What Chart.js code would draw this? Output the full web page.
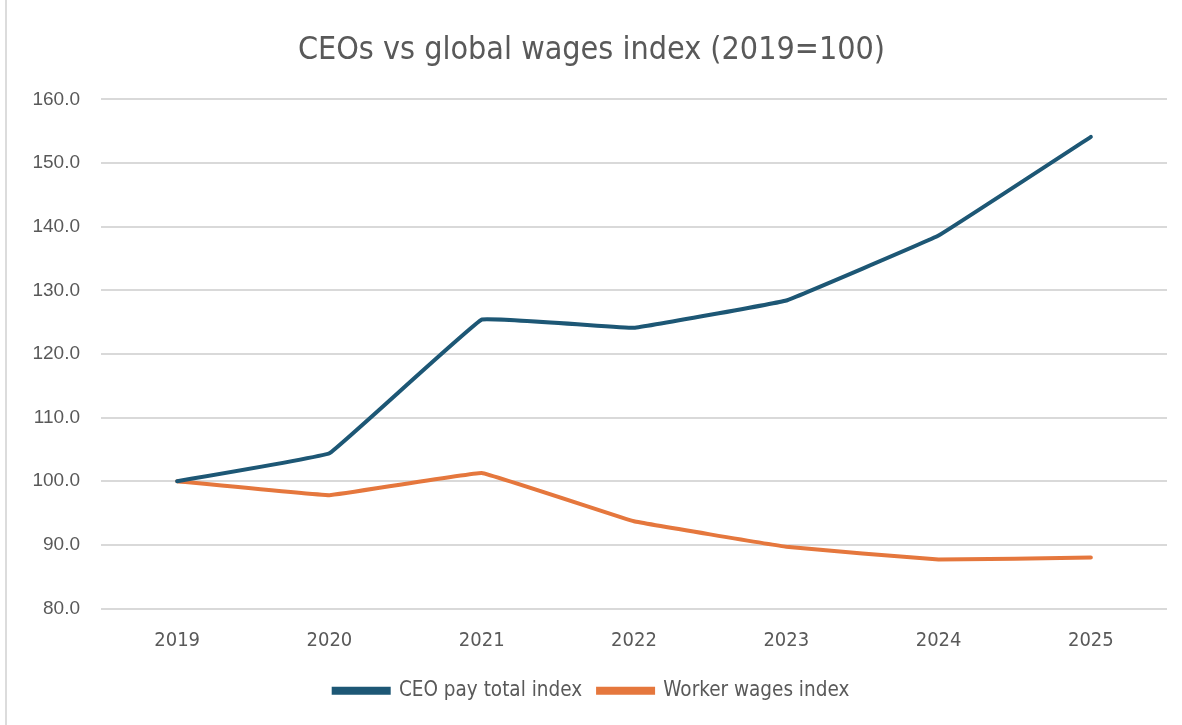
<!DOCTYPE html>
<html>
<head>
<meta charset="utf-8">
<script src="https://cdn.jsdelivr.net/npm/chart.js@4"></script>
<style>
  html, body { margin: 0; padding: 0; background: #fff; }
  #wrap { position: relative; width: 1182px; height: 725px; }
  #wrap::before { content: ""; position: absolute; left: 5px; top: 0; bottom: 0; width: 2px; background: #dcdcdc; }
</style>
</head>
<body>
<div id="wrap"><canvas id="chart" width="1182" height="725"></canvas></div>
<script>
const years = ["2019", "2020", "2021", "2022", "2023", "2024", "2025"];
const ceoPay = [100.0, 104.4, 125.4, 124.1, 128.4, 138.6, 154.1];
const workerWages = [100.0, 97.8, 101.3, 93.7, 89.7, 87.7, 88.0];
const yTicks = [80, 90, 100, 110, 120, 130, 140, 150, 160];

const narrow = "'Liberation Sans Narrow', 'DejaVu Sans Condensed', sans-serif";
const grey = "#595959";

new Chart(document.getElementById("chart"), {
  type: "line",
  data: {
    labels: years,
    datasets: [
      {
        label: "CEO pay total index",
        data: ceoPay,
        borderColor: "#1d5775",
        backgroundColor: "#1d5775",
        borderWidth: 4,
        pointRadius: 0,
        tension: 0.05,
        borderCapStyle: "round",
      },
      {
        label: "Worker wages index",
        data: workerWages,
        borderColor: "#e5773d",
        backgroundColor: "#e5773d",
        borderWidth: 4,
        pointRadius: 0,
        tension: 0.05,
        borderCapStyle: "round",
      },
    ],
  },
  options: {
    responsive: false,
    animation: false,
    layout: { padding: { left: 16, right: 15, top: 10, bottom: 14 } },
    plugins: {
      title: {
        display: true,
        text: "CEOs vs global wages index (2019=100)",
        color: grey,
        font: { family: narrow, size: 32, weight: "normal" },
        padding: { top: 21, bottom: 30 },
      },
      legend: {
        position: "bottom",
        labels: {
          color: grey,
          boxWidth: 55,
          boxHeight: 4,
          padding: 16,
          font: { family: narrow, size: 20.5 },
        },
      },
      tooltip: { enabled: false },
    },
    scales: {
      x: {
        offset: true,
        grid: { display: false },
        border: { display: false },
        ticks: { color: grey, font: { family: narrow, size: 20 }, padding: 12 },
      },
      y: {
        min: 80,
        max: 160,
        afterFit: (scale) => { scale.width = 85; },
        afterBuildTicks: (scale) => { scale.ticks = yTicks.map((v) => ({ value: v })); },
        grid: { color: "#d9d9d9", lineWidth: 2, drawTicks: false },
        border: { display: false },
        ticks: {
          color: grey,
          padding: 21,
          font: { family: "'Liberation Sans', Arial, sans-serif", size: 19 },
          callback: (v) => Number(v).toFixed(1),
        },
      },
    },
  },
});
</script>
</body>
</html>
